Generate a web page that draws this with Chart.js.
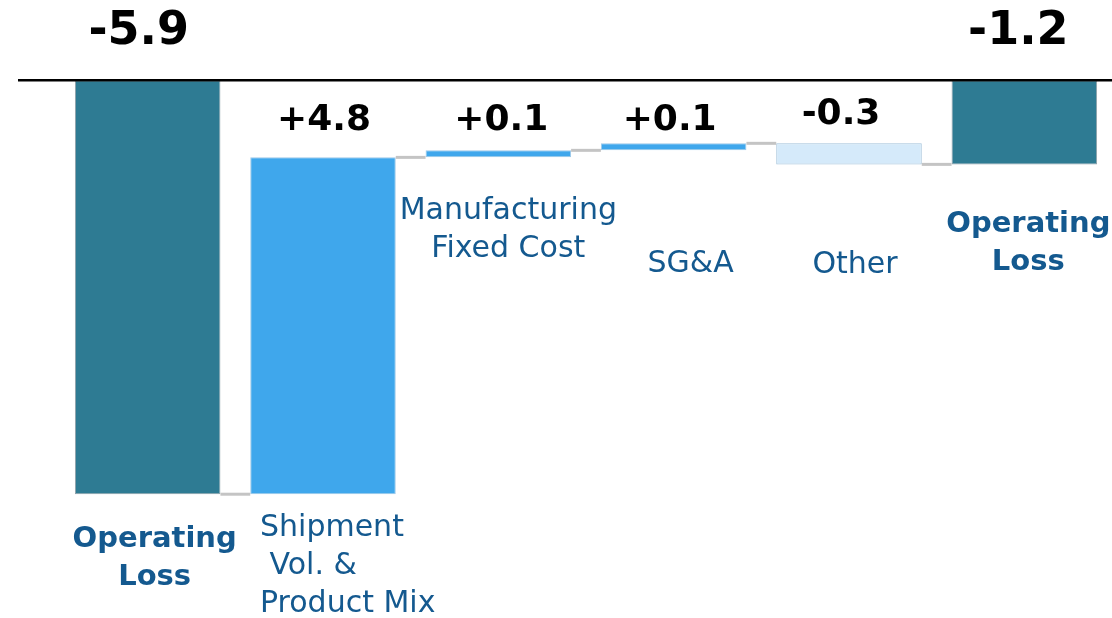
<!DOCTYPE html>
<html>
<head>
<meta charset="utf-8">
<script src="https://cdn.jsdelivr.net/npm/chart.js@4"></script>
<style>
  html, body { margin: 0; padding: 0; background: #fff; }
  #wrap { width: 1112px; height: 618px; }
</style>
</head>
<body>
<div id="wrap"><canvas id="chart" width="1112" height="618"></canvas></div>
<script>
const CATEGORIES = [
  ["Operating", "Loss"],
  ["Shipment", " Vol. &", "Product Mix"],
  ["Manufacturing", "Fixed Cost"],
  ["SG&A"],
  ["Other"],
  ["Operating", "Loss"],
];
const DELTAS = [-5.9, 4.8, 0.1, 0.1, -0.3, -1.2];
const IS_TOTAL = [true, false, false, false, false, true];
const VALUE_LABELS = ["-5.9", "+4.8", "+0.1", "+0.1", "-0.3", "-1.2"];

// layout only: label placement tweaks per bar
const VALUE_POS = [
  { dx: -9, dy: -48, size: 46 },
  { dx: 1, dy: -37, size: 36 },
  { dx: 3, dy: -30, size: 36 },
  { dx: -4, dy: -23, size: 36 },
  { dx: -8, dy: -29, size: 36 },
  { dx: -6, dy: -48, size: 46 },
];
const CAT_POS = [
  { dx: 7, dy: 45, align: "center", bold: true },
  { x: 260, dy: 34, align: "left", bold: false },
  { dx: 10, dy: 54, align: "center", bold: false },
  { dx: 17, dy: 114, align: "center", bold: false },
  { dx: 6, dy: 101, align: "center", bold: false },
  { dx: 4, dy: 60, align: "center", bold: true },
];

const COLORS = DELTAS.map((d, i) =>
  IS_TOTAL[i] ? "#2E7B93" : d >= 0 ? "#3FA7EC" : "#D5EAFA"
);
const BORDERS = DELTAS.map((d, i) =>
  IS_TOTAL[i] ? "#8fa0a8" : d >= 0 ? "#9ec9e8" : "#a2c2da"
);

// floating ranges for the waterfall
let run = 0;
const RANGES = DELTAS.map((d, i) => {
  if (IS_TOTAL[i]) { run = d; return [0, d]; }
  const r = [run, run + d];
  run += d;
  return r;
});

const waterfallDecor = {
  id: "waterfallDecor",
  afterDatasetsDraw(chart) {
    const { ctx } = chart;
    const y = chart.scales.y;
    const bars = chart.getDatasetMeta(0).data;

    // connectors
    ctx.save();
    ctx.strokeStyle = "#c4c4c4";
    ctx.lineWidth = 3;
    for (let i = 0; i < bars.length - 1; i++) {
      const a = bars[i], b = bars[i + 1];
      const py = y.getPixelForValue(RANGES[i][1]);
      ctx.beginPath();
      ctx.moveTo(a.x + a.width / 2, py);
      ctx.lineTo(b.x - b.width / 2, py);
      ctx.stroke();
    }
    ctx.restore();

    // zero line
    const zy = y.getPixelForValue(0);
    ctx.save();
    ctx.strokeStyle = "#000";
    ctx.lineWidth = 2.5;
    ctx.beginPath();
    ctx.moveTo(18, zy);
    ctx.lineTo(chart.width, zy);
    ctx.stroke();
    ctx.restore();

    // value labels
    ctx.save();
    ctx.fillStyle = "#000";
    ctx.textAlign = "center";
    ctx.textBaseline = "middle";
    bars.forEach((bar, i) => {
      const top = y.getPixelForValue(Math.max(...RANGES[i]));
      const p = VALUE_POS[i];
      ctx.font = `bold ${p.size}px "DejaVu Sans"`;
      ctx.fillText(VALUE_LABELS[i], bar.x + p.dx, top + p.dy);
    });
    ctx.restore();

    // category labels
    ctx.save();
    ctx.fillStyle = "#14598F";
    ctx.textBaseline = "middle";
    bars.forEach((bar, i) => {
      const bottom = y.getPixelForValue(Math.min(...RANGES[i]));
      const p = CAT_POS[i];
      ctx.font = `${p.bold ? "bold 29px" : "30px"} "DejaVu Sans"`;
      ctx.textAlign = p.align;
      const x = p.x != null ? p.x : bar.x + p.dx;
      CATEGORIES[i].forEach((line, j) => {
        ctx.fillText(line, x, bottom + p.dy + j * 38);
      });
    });
    ctx.restore();
  },
};

new Chart(document.getElementById("chart"), {
  type: "bar",
  data: {
    labels: CATEGORIES.map((c) => c.join(" ")),
    datasets: [{
      data: RANGES,
      backgroundColor: COLORS,
      borderColor: BORDERS,
      borderWidth: 1,
      borderSkipped: false,
      categoryPercentage: 1,
      barPercentage: 0.83,
    }],
  },
  options: {
    responsive: false,
    animation: false,
    layout: { padding: { left: 60, right: 0, top: 10, bottom: 8 } },
    scales: {
      x: { display: false },
      y: { display: false, min: -7.55, max: 1.0 },
    },
    plugins: { legend: { display: false }, tooltip: { enabled: false } },
  },
  plugins: [waterfallDecor],
});
</script>
</body>
</html>
